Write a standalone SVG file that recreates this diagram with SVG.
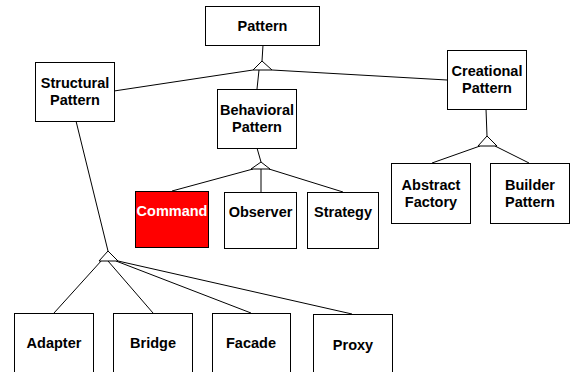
<svg xmlns="http://www.w3.org/2000/svg" width="575" height="372" viewBox="0 0 575 372">
<style>
.box{fill:#fff;stroke:#000;stroke-width:1}
.red{fill:#ff0000;stroke:#000;stroke-width:1}
text{font-family:"Liberation Sans",Arial,sans-serif;font-weight:bold;font-size:14.5px;text-anchor:middle;fill:#000}
.w{fill:#fff}
.c line{stroke:#000;stroke-width:1}
.c polygon{fill:#fff;stroke:#000;stroke-width:1}
</style>
<rect width="575" height="372" fill="#fff"/>
<g class="c" id="connectors">
<line x1="263" y1="45" x2="262" y2="61"/>
<line x1="253" y1="70" x2="114" y2="91"/>
<line x1="259" y1="70" x2="257" y2="89"/>
<line x1="272" y1="70" x2="447" y2="80"/>
<polygon points="262,61 253,70 272,70"/>
<line x1="486" y1="109" x2="487" y2="136"/>
<line x1="480" y1="146" x2="432" y2="163"/>
<line x1="495" y1="146" x2="529" y2="163"/>
<polygon points="487,136 478,146 497,146"/>
<line x1="257" y1="148" x2="261" y2="162"/>
<line x1="253" y1="169" x2="172" y2="191"/>
<line x1="261" y1="169" x2="261" y2="192"/>
<line x1="269" y1="169" x2="343" y2="192"/>
<polygon points="261,162 251,169 270,169"/>
<line x1="76" y1="121" x2="108" y2="251"/>
<line x1="102" y1="260" x2="54" y2="313"/>
<line x1="108" y1="261" x2="153" y2="313"/>
<line x1="116" y1="261" x2="251" y2="313"/>
<line x1="118" y1="261" x2="352" y2="314"/>
<polygon points="108,251 99,261 118,261"/>
</g>
<g id="pattern"><rect class="box" x="205.5" y="6.5" width="114" height="39"/><text x="262.5" y="31">Pattern</text></g>
<g id="structural"><rect class="box" x="35.5" y="62.5" width="79" height="59"/><text x="75" y="88">Structural</text><text x="75" y="105">Pattern</text></g>
<g id="behavioral"><rect class="box" x="217.5" y="89.5" width="79" height="59"/><text x="257" y="115">Behavioral</text><text x="257" y="132">Pattern</text></g>
<g id="creational"><rect class="box" x="447.5" y="50.5" width="79" height="59"/><text x="487" y="76">Creational</text><text x="487" y="93">Pattern</text></g>
<g id="abstract"><rect class="box" x="391.5" y="163.5" width="79" height="60"/><text x="431" y="190">Abstract</text><text x="431" y="207">Factory</text></g>
<g id="builder"><rect class="box" x="490.5" y="163.5" width="79" height="60"/><text x="530" y="190">Builder</text><text x="530" y="207">Pattern</text></g>
<g id="command"><rect class="red" x="135.5" y="191.5" width="73" height="56"/><text class="w" x="172" y="216">Command</text></g>
<g id="observer"><rect class="box" x="224.5" y="192.5" width="72" height="56"/><text x="260.5" y="217">Observer</text></g>
<g id="strategy"><rect class="box" x="307.5" y="192.5" width="71" height="56"/><text x="343" y="217">Strategy</text></g>
<g id="adapter"><rect class="box" x="14.5" y="313.5" width="79" height="62"/><text x="54" y="348">Adapter</text></g>
<g id="bridge"><rect class="box" x="113.5" y="313.5" width="79" height="62"/><text x="153" y="348">Bridge</text></g>
<g id="facade"><rect class="box" x="212.5" y="313.5" width="78" height="62"/><text x="251" y="348">Facade</text></g>
<g id="proxy"><rect class="box" x="313.5" y="314.5" width="79" height="62"/><text x="353" y="350">Proxy</text></g>
</svg>
